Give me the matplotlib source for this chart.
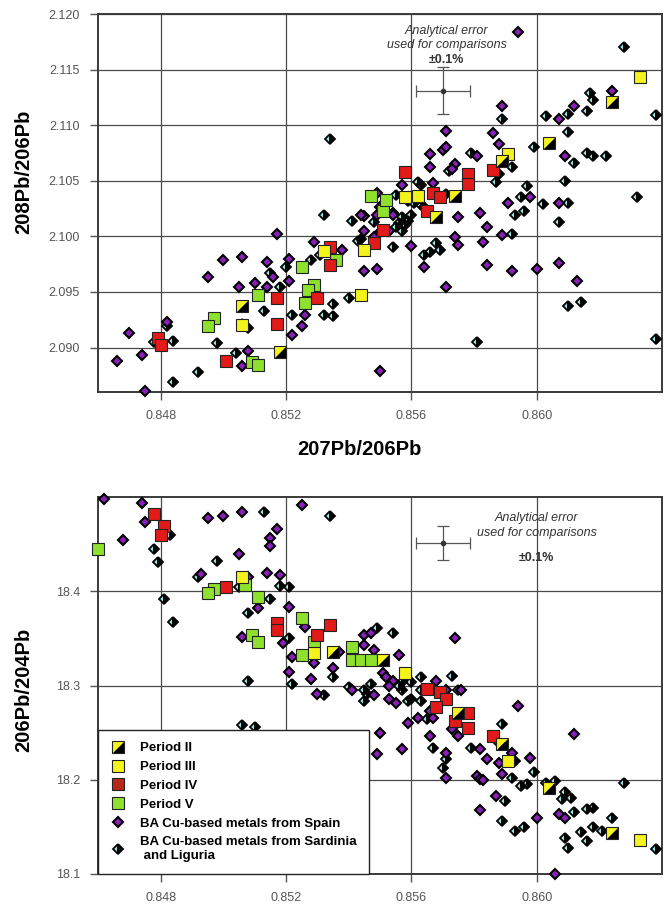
import matplotlib
matplotlib.use('Agg')
import matplotlib.pyplot as plt
from matplotlib.lines import Line2D
from matplotlib.legend_handler import HandlerTuple
from matplotlib.ticker import FormatStrFormatter

plt.rcParams['font.family'] = ['Liberation Sans', 'DejaVu Sans']

# ---------------- TOP PANEL: 207Pb/206Pb vs 208Pb/206Pb ----------------
top_p2_x = [0.8624, 0.8604, 0.8589, 0.8574, 0.8568, 0.8506, 0.8518]
top_p2_y = [2.1121, 2.1084, 2.1068, 2.1036, 2.1017, 2.0937, 2.0896]
top_p3_x = [0.8633, 0.8591, 0.8562, 0.8558, 0.8545, 0.8532, 0.8544, 0.8506]
top_p3_y = [2.1143, 2.1074, 2.1036, 2.1035, 2.0988, 2.0987, 2.0947, 2.0920]
top_p4_x = [0.8586, 0.8578, 0.8578, 0.8558, 0.8567, 0.8569, 0.8565, 0.8551, 0.8548,
            0.8534, 0.8534, 0.8530, 0.8517, 0.8517, 0.8479, 0.8480, 0.8501]
top_p4_y = [2.1060, 2.1056, 2.1047, 2.1058, 2.1039, 2.1035, 2.1023, 2.1006, 2.0994,
            2.0990, 2.0974, 2.0945, 2.0945, 2.0921, 2.0909, 2.0902, 2.0888]
top_p5_x = [0.8551, 0.8547, 0.8552, 0.8536, 0.8525, 0.8529, 0.8527, 0.8526, 0.8511,
            0.8497, 0.8495, 0.8509, 0.8511]
top_p5_y = [2.1023, 2.1036, 2.1033, 2.0979, 2.0972, 2.0956, 2.0952, 2.0940, 2.0947,
            2.0927, 2.0919, 2.0887, 2.0884]
top_spain_x = [0.8594, 0.8624, 0.8612, 0.8607, 0.8589, 0.8571, 0.8586, 0.8588, 0.8566,
               0.8570, 0.8571, 0.8581, 0.8566, 0.8574, 0.8573, 0.8609, 0.8598, 0.8591,
               0.8607, 0.8575, 0.8582, 0.8584, 0.8567, 0.8557, 0.8549, 0.8545,
               0.8589, 0.8583, 0.8574, 0.8575, 0.8560, 0.8564, 0.8584, 0.8592, 0.8600,
               0.8607, 0.8613, 0.8571, 0.8549, 0.8545, 0.8550,
               0.8517, 0.8529, 0.8521, 0.8500, 0.8506, 0.8514, 0.8516, 0.8495, 0.8510,
               0.8514, 0.8505, 0.8521, 0.8526, 0.8525, 0.8522, 0.8508, 0.8506, 0.8475,
               0.8482, 0.8470, 0.8474, 0.8466,
               0.8550, 0.8554, 0.8554, 0.8553, 0.8550, 0.8549, 0.8544, 0.8545, 0.8548, 0.8538]
top_spain_y = [2.1184, 2.1131, 2.1117, 2.1106, 2.1117, 2.1095, 2.1093, 2.1083, 2.1074,
               2.1078, 2.1080, 2.1072, 2.1062, 2.1065, 2.1061, 2.1072, 2.1035, 2.1030,
               2.1030, 2.1017, 2.1021, 2.1008, 2.1048, 2.1046, 2.1039, 2.1018,
               2.1001, 2.0995, 2.0999, 2.0992, 2.0991, 2.0972, 2.0974, 2.0969, 2.0971,
               2.0976, 2.0960, 2.0954, 2.0971, 2.0969, 2.0879,
               2.1002, 2.0995, 2.0980, 2.0979, 2.0981, 2.0977, 2.0963, 2.0963, 2.0958,
               2.0954, 2.0954, 2.0960, 2.0929, 2.0919, 2.0911, 2.0897, 2.0883, 2.0861,
               2.0923, 2.0913, 2.0893, 2.0888,
               2.1026, 2.1021, 2.1019, 2.1005, 2.1004, 2.1019, 2.1019, 2.1005, 2.0999, 2.0988]
top_sard_x = [0.8534, 0.8532, 0.8628, 0.8617, 0.8618, 0.8638, 0.8610, 0.8603, 0.8616,
              0.8589, 0.8610, 0.8599, 0.8579, 0.8572, 0.8612, 0.8616, 0.8618, 0.8622,
              0.8592, 0.8588, 0.8587, 0.8597, 0.8609, 0.8632, 0.8595, 0.8602, 0.8610,
              0.8596, 0.8593, 0.8607, 0.8571, 0.8562, 0.8563, 0.8541,
              0.8592, 0.8568, 0.8569, 0.8566, 0.8564, 0.8554, 0.8610, 0.8614, 0.8540,
              0.8535, 0.8535, 0.8581, 0.8638,
              0.8528, 0.8531, 0.8520, 0.8515, 0.8518, 0.8513, 0.8522, 0.8532, 0.8506,
              0.8508, 0.8498, 0.8504, 0.8492, 0.8484, 0.8482, 0.8484, 0.8478,
              0.8555, 0.8559, 0.8561, 0.8563, 0.8564, 0.8552, 0.8557, 0.8559, 0.8560,
              0.8556, 0.8558, 0.8555, 0.8557, 0.8548, 0.8543, 0.8544]
top_sard_y = [2.1088, 2.1019, 2.1170, 2.1129, 2.1123, 2.1109, 2.1110, 2.1108, 2.1113,
              2.1106, 2.1094, 2.1080, 2.1075, 2.1059, 2.1066, 2.1075, 2.1072, 2.1072,
              2.1062, 2.1056, 2.1049, 2.1045, 2.1050, 2.1035, 2.1035, 2.1029, 2.1030,
              2.1023, 2.1019, 2.1013, 2.1038, 2.1049, 2.1046, 2.1014,
              2.1002, 2.0994, 2.0988, 2.0986, 2.0983, 2.0990, 2.0937, 2.0941, 2.0945,
              2.0939, 2.0928, 2.0905, 2.0908,
              2.0979, 2.0983, 2.0972, 2.0967, 2.0954, 2.0933, 2.0929, 2.0929, 2.0921,
              2.0918, 2.0904, 2.0895, 2.0878, 2.0869, 2.0919, 2.0906, 2.0905,
              2.1037, 2.1032, 2.1030, 2.1028, 2.1026, 2.1023, 2.1017, 2.1014, 2.1019,
              2.1012, 2.1010, 2.1008, 2.1005, 2.1013, 2.0996, 2.0998]

# ---------------- BOTTOM PANEL: 207Pb/206Pb vs 206Pb/204Pb ----------------
bot_p2_x = [0.8535, 0.8551, 0.8575, 0.8589, 0.8604, 0.8624]
bot_p2_y = [18.3351, 18.3266, 18.2713, 18.2383, 18.1915, 18.1436]
bot_p3_x = [0.8506, 0.8529, 0.8558, 0.8591, 0.8633]
bot_p3_y = [18.4149, 18.3340, 18.3128, 18.2202, 18.1362]
bot_p4_x = [0.8478, 0.8481, 0.8480, 0.8501, 0.8517, 0.8517, 0.8530, 0.8534, 0.8565,
            0.8569, 0.8571, 0.8568, 0.8574, 0.8578, 0.8578, 0.8586]
bot_p4_y = [18.4819, 18.4691, 18.4596, 18.4043, 18.3660, 18.3585, 18.3532, 18.3638,
            18.2968, 18.2926, 18.2862, 18.2777, 18.2628, 18.2713, 18.2553, 18.2468]
bot_p5_x = [0.8460, 0.8507, 0.8497, 0.8495, 0.8511, 0.8509, 0.8511, 0.8525, 0.8529,
            0.8525, 0.8541, 0.8541, 0.8544, 0.8547]
bot_p5_y = [18.4447, 18.4064, 18.4021, 18.3979, 18.3936, 18.3532, 18.3457, 18.3713,
            18.3457, 18.3319, 18.3404, 18.3266, 18.3266, 18.3266]
bot_spain_x = [0.8462, 0.8474, 0.8475, 0.8468, 0.8495, 0.8500, 0.8506, 0.8525, 0.8517,
               0.8515, 0.8515, 0.8505, 0.8493, 0.8514, 0.8518, 0.8508, 0.8521, 0.8511,
               0.8506, 0.8519, 0.8526, 0.8522, 0.8529, 0.8521, 0.8528, 0.8530, 0.8537,
               0.8545, 0.8547, 0.8545, 0.8574, 0.8548, 0.8556, 0.8548, 0.8551, 0.8552,
               0.8554, 0.8553, 0.8553, 0.8555, 0.8568, 0.8571, 0.8576, 0.8566, 0.8567,
               0.8562, 0.8559, 0.8573, 0.8575, 0.8594, 0.8592, 0.8598, 0.8566, 0.8571,
               0.8582, 0.8584, 0.8588, 0.8550, 0.8549, 0.8557, 0.8541, 0.8535,
               0.8571, 0.8581, 0.8582, 0.8583, 0.8589, 0.8607, 0.8609, 0.8587, 0.8582,
               0.8600, 0.8606, 0.8612]
bot_spain_y = [18.4979, 18.4936, 18.4734, 18.4543, 18.4777, 18.4798, 18.4840, 18.4915,
               18.4660, 18.4564, 18.4479, 18.4394, 18.4181, 18.4192, 18.4170, 18.4149,
               18.3830, 18.3819, 18.3511, 18.3447, 18.3617, 18.3298, 18.3234, 18.3138,
               18.3074, 18.2915, 18.3351, 18.3532, 18.3553, 18.3426, 18.3500, 18.3372,
               18.3319, 18.2894, 18.3128, 18.3085, 18.3053, 18.3000, 18.2862, 18.2819,
               18.3053, 18.2947, 18.2947, 18.2734, 18.2660, 18.2660, 18.2606, 18.2543,
               18.2468, 18.2787, 18.2287, 18.2234, 18.2468, 18.2287, 18.2330, 18.2223,
               18.2181, 18.2500, 18.2277, 18.2330, 18.2947, 18.3181,
               18.2021, 18.2043, 18.2011, 18.2000, 18.2064, 18.1638, 18.1596, 18.1830,
               18.1681, 18.1596, 18.1000, 18.2489]
bot_sard_x = [0.8483, 0.8478, 0.8479, 0.8481, 0.8484, 0.8513, 0.8534, 0.8498, 0.8492,
              0.8505, 0.8518, 0.8521, 0.8515, 0.8508, 0.8521, 0.8522, 0.8508, 0.8532,
              0.8549, 0.8554, 0.8535, 0.8540, 0.8545, 0.8545, 0.8547, 0.8556, 0.8557,
              0.8557, 0.8560, 0.8559, 0.8560, 0.8563, 0.8563, 0.8563, 0.8573, 0.8575,
              0.8565, 0.8589, 0.8588, 0.8593, 0.8567, 0.8571, 0.8570, 0.8579, 0.8546,
              0.8592, 0.8595, 0.8597, 0.8599, 0.8603, 0.8606, 0.8609, 0.8608, 0.8611,
              0.8612, 0.8616, 0.8618, 0.8624, 0.8628, 0.8590, 0.8589, 0.8593, 0.8596,
              0.8618, 0.8614, 0.8621, 0.8609, 0.8610, 0.8616, 0.8638, 0.8506, 0.8510]
bot_sard_y = [18.4596, 18.4447, 18.4309, 18.3915, 18.3670, 18.4840, 18.4798, 18.4319,
              18.4149, 18.4043, 18.4053, 18.4043, 18.3915, 18.3766, 18.3500, 18.3021,
              18.3043, 18.2894, 18.3606, 18.3553, 18.3085, 18.2979, 18.2947, 18.2840,
              18.3021, 18.3000, 18.2947, 18.3032, 18.3032, 18.2840, 18.2862, 18.3085,
              18.2947, 18.2840, 18.3106, 18.2947, 18.2649, 18.2596, 18.2394, 18.2202,
              18.2340, 18.2223, 18.2128, 18.2340, 18.2915,
              18.2021, 18.1936, 18.1957, 18.2085, 18.1968, 18.1989, 18.1872, 18.1798,
              18.1808, 18.1660, 18.1691, 18.1702, 18.1596, 18.1968, 18.1777, 18.1564,
              18.1457, 18.1500, 18.1500, 18.1447, 18.1457, 18.1383, 18.1277, 18.1351,
              18.1266, 18.2585, 18.2564]

x_ticks = [0.848, 0.852, 0.856, 0.860]
top_y_ticks = [2.090, 2.095, 2.100, 2.105, 2.110, 2.115, 2.120]
bot_y_ticks = [18.1, 18.2, 18.3, 18.4]

legend_labels = ["Period II", "Period III", "Period IV", "Period V",
                 "BA Cu-based metals from Spain",
                 "BA Cu-based metals from Sardinia\n and Liguria"]

# ---------------- styling ----------------
YEL = '#f4f41c'
RED = '#e21a1a'
GRN = '#8ee22e'
PUR = '#8a20b8'
CYA = '#98e6de'
SQ_MS = 8.5
D_MS = 5.3
TRI_UL = [(-1, -1), (-1, 1), (1, 1), (-1, -1)]
TRI_LR = [(-1, -1), (1, 1), (1, -1), (-1, -1)]

fig = plt.figure(figsize=(6.67, 9.07), dpi=100)
ax1 = fig.add_axes([98 / 667, 1 - 392 / 907, 564 / 667, 378 / 907])
ax2 = fig.add_axes([98 / 667, 1 - 874 / 907, 564 / 667, 377 / 907])


def style_axes(ax):
    ax.grid(True, color='#4a4a4a', lw=0.9, zorder=0)
    ax.set_axisbelow(True)
    for s in ax.spines.values():
        s.set_color('#3a3a3a')
        s.set_linewidth(1.4)
    ax.tick_params(direction='out', length=6, width=1, color='#555555',
                   labelcolor='#555555', labelsize=9, pad=7)


def draw(ax, sa_x, sa_y, sp_x, sp_y, p2x, p2y, p3x, p3y, p4x, p4y, p5x, p5y):
    ax.plot(sa_x, sa_y, ls='none', marker='D', ms=D_MS, fillstyle='left',
            mfc=CYA, markerfacecoloralt='black', mec='black', mew=1.3, zorder=3,
            clip_on=False)
    ax.plot(sp_x, sp_y, ls='none', marker='D', ms=D_MS, mfc=PUR, mec='black',
            mew=1.5, zorder=3, clip_on=False)
    sq = dict(ls='none', marker='s', ms=SQ_MS, mec='#222222', mew=0.8, zorder=4,
              clip_on=False)
    ax.plot(p5x, p5y, mfc=GRN, **sq)
    ax.plot(p4x, p4y, mfc=RED, **sq)
    ax.plot(p3x, p3y, mfc=YEL, **sq)
    ax.plot(p2x, p2y, ls='none', marker=TRI_UL, ms=SQ_MS, mfc=YEL, mec='none',
            zorder=4, clip_on=False)
    ax.plot(p2x, p2y, ls='none', marker=TRI_LR, ms=SQ_MS, mfc='black', mec='none',
            zorder=4, clip_on=False)
    ax.plot(p2x, p2y, ls='none', marker='s', ms=SQ_MS, mfc='none', mec='#222222',
            mew=0.8, zorder=4, clip_on=False)


style_axes(ax1)
style_axes(ax2)

draw(ax1, top_sard_x, top_sard_y, top_spain_x, top_spain_y, top_p2_x, top_p2_y,
     top_p3_x, top_p3_y, top_p4_x, top_p4_y, top_p5_x, top_p5_y)
draw(ax2, bot_sard_x, bot_sard_y, bot_spain_x, bot_spain_y, bot_p2_x, bot_p2_y,
     bot_p3_x, bot_p3_y, bot_p4_x, bot_p4_y, bot_p5_x, bot_p5_y)

ax1.set_xlim(0.846, 0.864)
ax1.set_ylim(2.086, 2.120)
ax1.set_xticks(x_ticks)
ax1.set_yticks(top_y_ticks)
ax1.xaxis.set_major_formatter(FormatStrFormatter('%.3f'))
ax1.yaxis.set_major_formatter(FormatStrFormatter('%.3f'))

ax2.set_xlim(0.846, 0.864)
ax2.set_ylim(18.1, 18.5)
ax2.set_xticks(x_ticks)
ax2.set_yticks(bot_y_ticks)
ax2.xaxis.set_major_formatter(FormatStrFormatter('%.3f'))
ax2.yaxis.set_major_formatter(FormatStrFormatter('%.1f'))

# analytical error bars
eb = dict(fmt='o', ms=3, color='#333333', ecolor='#555555', elinewidth=0.9,
          capsize=4, capthick=0.9, zorder=5)
ax1.errorbar(0.8570, 2.1131, xerr=0.000857, yerr=0.0021, **eb)
ax1.text(0.85713, 2.1185, "Analytical error", ha='center', va='center',
         style='italic', fontsize=9, color='#333333')
ax1.text(0.85713, 2.1172, "used for comparisons", ha='center', va='center',
         style='italic', fontsize=9, color='#333333')
ax1.text(0.85713, 2.1159, "±0.1%", ha='center', va='center',
         fontweight='bold', fontsize=9, color='#333333')

ax2.errorbar(0.8570, 18.4511, xerr=0.000857, yerr=0.018, **eb)
ax2.text(0.8600, 18.4777, "Analytical error", ha='center', va='center',
         style='italic', fontsize=9, color='#333333')
ax2.text(0.8600, 18.4617, "used for comparisons", ha='center', va='center',
         style='italic', fontsize=9, color='#333333')
ax2.text(0.8600, 18.4351, "±0.1%", ha='center', va='center',
         fontweight='bold', fontsize=9, color='#333333')

# axis labels
fig.text(359 / 667, 1 - 450 / 907, "207Pb/206Pb", ha='center', va='center',
         fontsize=14.5, fontweight='bold')
fig.text(24 / 667, 1 - 172 / 907, "208Pb/206Pb", ha='center', va='center',
         rotation=90, fontsize=14.5, fontweight='bold')
fig.text(24 / 667, 1 - 690 / 907, "206Pb/204Pb", ha='center', va='center',
         rotation=90, fontsize=14.5, fontweight='bold')

# legend
h2 = (Line2D([], [], ls='none', marker=TRI_UL, ms=SQ_MS, mfc=YEL, mec='none'),
      Line2D([], [], ls='none', marker=TRI_LR, ms=SQ_MS, mfc='black', mec='none'),
      Line2D([], [], ls='none', marker='s', ms=SQ_MS, mfc='none', mec='#222222', mew=0.8))
h3 = Line2D([], [], ls='none', marker='s', ms=SQ_MS, mfc=YEL, mec='#222222', mew=0.8)
h4 = Line2D([], [], ls='none', marker='s', ms=SQ_MS, mfc='#b82818', mec='#222222', mew=0.8)
h5 = Line2D([], [], ls='none', marker='s', ms=SQ_MS, mfc=GRN, mec='#222222', mew=0.8)
hsp = Line2D([], [], ls='none', marker='D', ms=D_MS, mfc=PUR, mec='black', mew=1.5)
hsa = Line2D([], [], ls='none', marker='D', ms=D_MS, fillstyle='left', mfc=CYA,
             markerfacecoloralt='black', mec='black', mew=1.3)
leg = ax2.legend([h2, h3, h4, h5, hsp, hsa], legend_labels,
                 handler_map={tuple: HandlerTuple(ndivide=1, pad=0)},
                 loc='lower left', bbox_to_anchor=(0, 0), borderaxespad=0,
                 prop={'weight': 'bold', 'size': 9.5}, fancybox=False,
                 framealpha=1, edgecolor='#222222', handlelength=1.2,
                 handletextpad=1.1, labelspacing=0.5, borderpad=0.9)
leg.get_frame().set_linewidth(1.0)
leg.set_zorder(10)

fig.savefig('out.png', dpi=100)
